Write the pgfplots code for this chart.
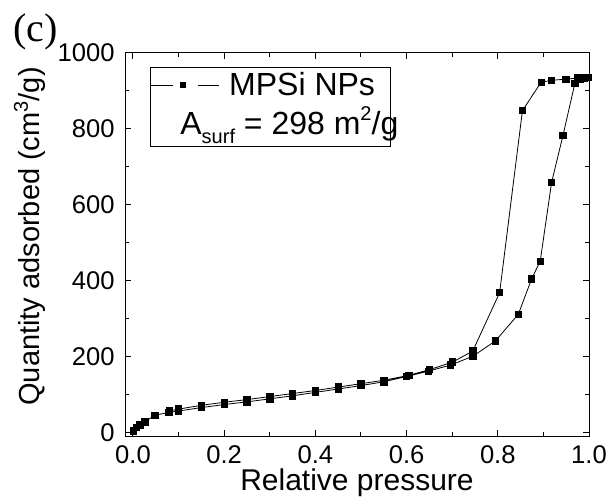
\documentclass[border=0pt]{standalone}
\usepackage{fontspec}
\setmainfont{Liberation Sans}
\newfontfamily\seriffont{Liberation Serif}
\usepackage{pgfplots}
\pgfplotsset{compat=1.18}
\begin{document}
\begin{tikzpicture}
\useasboundingbox (-62.5pt,-33.5pt) rectangle (241.5pt,218pt);
\begin{axis}[
  at={(0pt,0pt)}, anchor=south west,
  scale only axis, width=232pt, height=191.5pt,
  xmin=-0.0175, xmax=1.0, ymin=-10, ymax=1000,
  xtick={0,0.2,0.4,0.6,0.8,1.0},
  minor xtick={0.1,0.3,0.5,0.7,0.9},
  ytick={0,200,400,600,800,1000},
  minor ytick={100,300,500,700,900},
  tick align=inside,
  major tick length=3pt, minor tick length=2pt,
  every tick/.style={black, line width=0.5pt},
  axis line style={line width=0.5pt},
  xticklabel style={/pgf/number format/fixed, /pgf/number format/precision=1, /pgf/number format/fixed zerofill, font=\fontsize{12.8}{14}\selectfont, anchor=base, inner sep=0pt, yshift=-13.5pt},
  yticklabel style={/pgf/number format/1000 sep={}, font=\fontsize{12.8}{14}\selectfont, anchor=east, inner sep=0pt, xshift=-5pt},
  /pgf/number format/assume math mode=true,
  clip=false,
  legend style={draw=none, fill=none, at={([xshift=12.5pt, yshift=-16pt]rel axis cs:0,1)}, anchor=west, inner sep=0pt, font=\fontsize{16}{18}\selectfont, nodes={inner sep=0pt}},
  legend image code/.code={
    \draw[line width=0.4pt] (0pt,0pt)--(11pt,0pt);
    \draw[line width=0.4pt] (23.5pt,0pt)--(34pt,0pt);
    \fill (14.9pt,-1.3pt) rectangle (17.5pt,1.3pt);
  },
]
\addplot[black, line width=0.4pt, mark=square*, mark size=1.6pt, mark options={fill=black}] coordinates {
(0.001,3) (0.008,12) (0.015,19) (0.026,27) (0.048,45) (0.079,52) (0.1,56)
(0.15,65) (0.2,73) (0.25,80) (0.3,88) (0.35,96) (0.4,105) (0.45,114)
(0.5,123) (0.55,133) (0.6,147) (0.648,161) (0.696,177) (0.745,200)
(0.795,241) (0.845,311) (0.874,404) (0.893,451) (0.918,659) (0.943,783)
(0.969,920) (0.98,930) (0.99,934)
(0.998,936) (0.975,934) (0.949,931) (0.918,928) (0.895,923) (0.854,848)
(0.804,368) (0.745,214) (0.701,185) (0.65,165) (0.605,150) (0.55,137)
(0.5,128) (0.45,119) (0.4,110) (0.35,102) (0.3,94) (0.25,86) (0.2,79)
(0.15,71) (0.1,61) (0.08,56)
};
\addlegendentry{\hspace{5pt}MPSi NPs}
\draw[line width=0.5pt] ([xshift=12.5pt, yshift=-7.5pt]rel axis cs:0,1) rectangle ([xshift=132.5pt, yshift=-47pt]rel axis cs:0,1);
\node[anchor=base west, inner sep=0pt, font=\fontsize{16}{18}\selectfont] at ([xshift=27.5pt, yshift=-41pt]rel axis cs:0,1) {A\raisebox{-4.5pt}{\fontsize{10}{12}\selectfont surf} = 298 m\raisebox{7pt}{\fontsize{10}{12}\selectfont 2}/g};
\node[anchor=base, inner sep=0pt, font=\fontsize{15}{17}\selectfont] at ([yshift=-27pt]rel axis cs:0.5,0) {Relative pressure};
\node[anchor=base, rotate=90, inner sep=0pt, font=\fontsize{14.5}{16}\selectfont] at ([xshift=-42.5pt, yshift=4pt]rel axis cs:0,0.5) {Quantity adsorbed (cm\raisebox{6pt}{\fontsize{10}{12}\selectfont 3}/g)};
\node[anchor=base west, inner sep=0pt, font=\seriffont\fontsize{20}{22}\selectfont] at ([xshift=-56pt, yshift=5.5pt]rel axis cs:0,1) {(c)};
\end{axis}
\end{tikzpicture}
\end{document}
